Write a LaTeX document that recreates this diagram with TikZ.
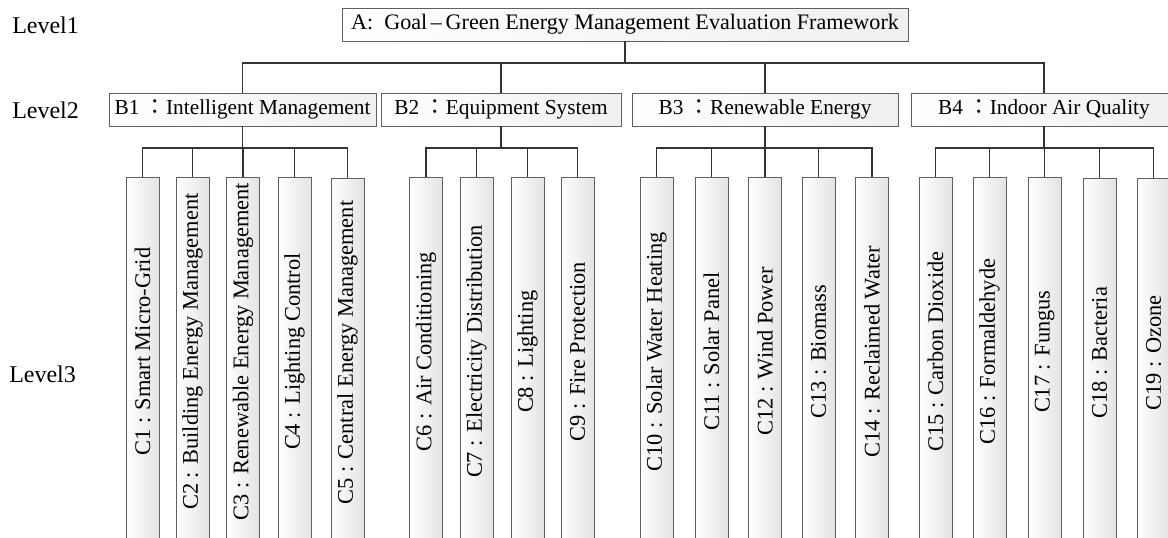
\documentclass[tikz,border=0pt]{standalone}
\usepackage{fontspec}
\setmainfont{Liberation Serif}
\newfontfamily\cjk{Noto Sans CJK TC}
\usepackage{graphicx}
\usepackage{tikz}

\newcommand{\pxu}{0.75pt}
\newcommand{\fc}{{\cjk ：}}
\newcommand{\upright}[1]{\rotatebox{90}{\hspace*{14pt}#1}}

\tikzset{
  levellabel/.style={anchor=west, inner sep=0pt, font=\fontsize{18}{21}\selectfont},
  goalbox/.style={draw=gray!75!black, left color=white, right color=gray!12,
    inner sep=0pt, minimum height=33*\pxu, font=\fontsize{16}{19}\selectfont},
  critbox/.style={goalbox},
  subbox/.style={draw=gray!75!black, left color=white, right color=gray!22,
    inner sep=0pt, minimum width=33*\pxu, minimum height=368*\pxu,
    font=\fontsize{16.8}{19}\selectfont},
  link/.style={draw=black!80, line width=0.9pt}
}

\begin{document}
\begin{tikzpicture}[x=\pxu, y=-\pxu]
			\useasboundingbox (0,0) rectangle (1168,537);
			\clip (0,0) rectangle (1168,537);
			% level labels
			\node[levellabel] (lv1) at (12,25) {Level1};
			\node[levellabel] (lv2) at (12,110) {Level2};
			\node[levellabel] (lv3) at (9,374) {Level3};
			% goal
			\node[goalbox, minimum width=566*\pxu, font=\fontsize{16.6}{19}\selectfont] (A) at (625,24.5) {A:\ \ Goal\,–\,Green Energy Management Evaluation Framework};
			% criteria
			\node[critbox, minimum width=267*\pxu] (B1) at (242.5,109.5) {B1 \fc Intelligent Management};
			\node[critbox, minimum width=240*\pxu] (B2) at (501,109.5) {B2 \fc Equipment System};
			\node[critbox, minimum width=266*\pxu] (B3) at (765,109.5) {B3 \fc Renewable Energy};
			\node[critbox, minimum width=266*\pxu] (B4) at (1044,109.5) {B4 \fc Indoor Air Quality};
			% sub-criteria
			\node[subbox] (C1) at (142.5,361) {\upright{C1 : Smart Micro-Grid}};
			\node[subbox] (C2) at (192.5,361) {\upright{C2 : Building Energy Management}};
			\node[subbox] (C3) at (243,361) {\upright{C3 : Renewable Energy Management}};
			\node[subbox] (C4) at (294.5,361) {\upright{C4 : Lighting Control}};
			\node[subbox] (C5) at (347.5,362) {\upright{C5 : Central Energy Management}};
			\node[subbox] (C6) at (426,361) {\upright{C6 : Air Conditioning}};
			\node[subbox] (C7) at (476.5,361) {\upright{C7 : Electricity Distribution}};
			\node[subbox] (C8) at (527.5,361) {\upright{C8 : Lighting}};
			\node[subbox] (C9) at (577.5,361) {\upright{C9 : Fire Protection}};
			\node[subbox] (C10) at (656.5,361) {\upright{C10 : Solar Water Heating}};
			\node[subbox] (C11) at (711.5,361) {\upright{C11 : Solar Panel}};
			\node[subbox] (C12) at (765,361) {\upright{C12 : Wind Power}};
			\node[subbox] (C13) at (818.5,361) {\upright{C13 : Biomass}};
			\node[subbox] (C14) at (872,361) {\upright{C14 : Reclaimed Water}};
			\node[subbox] (C15) at (935.5,361) {\upright{C15 : Carbon Dioxide}};
			\node[subbox] (C16) at (989.5,361) {\upright{C16 : Formaldehyde}};
			\node[subbox] (C17) at (1044.5,361) {\upright{C17 : Fungus}};
			\node[subbox] (C18) at (1099.5,362) {\upright{C18 : Bacteria}};
			\node[subbox] (C19) at (1153.5,362) {\upright{C19 : Ozone}};
			% connectors
			\coordinate (abar) at (625,63);
			\draw[link] (A.south) -- (abar);
			\draw[link] (B1.north) |- (abar) -| (B4.north);
			\draw[link] (B2.north) -- (B2.north |- abar);
			\draw[link] (B3.north) -- (B3.north |- abar);
			\coordinate (b1bar) at (242.5,148);
			\coordinate (b2bar) at (501,148);
			\coordinate (b3bar) at (765,148);
			\coordinate (b4bar) at (1044,148);
			\draw[link] (B1.south) -- (b1bar);
			\draw[link] (B2.south) -- (b2bar);
			\draw[link] (B3.south) -- (b3bar);
			\draw[link] (B4.south) -- (b4bar);
			\draw[link] (C1.north) |- (b1bar) -| (C5.north);
			\draw[link] (C6.north) |- (b2bar) -| (C9.north);
			\draw[link] (C10.north) |- (b3bar) -| (C14.north);
			\draw[link] (C15.north) |- (b4bar) -| (C19.north);
			\foreach \c/\bar in {C2/b1bar,C3/b1bar,C4/b1bar,C7/b2bar,C8/b2bar,C11/b3bar,C12/b3bar,C13/b3bar,C16/b4bar,C17/b4bar,C18/b4bar}
				\draw[link] (\c.north) -- (\c.north |- \bar);
			\end{tikzpicture}
\end{document}
